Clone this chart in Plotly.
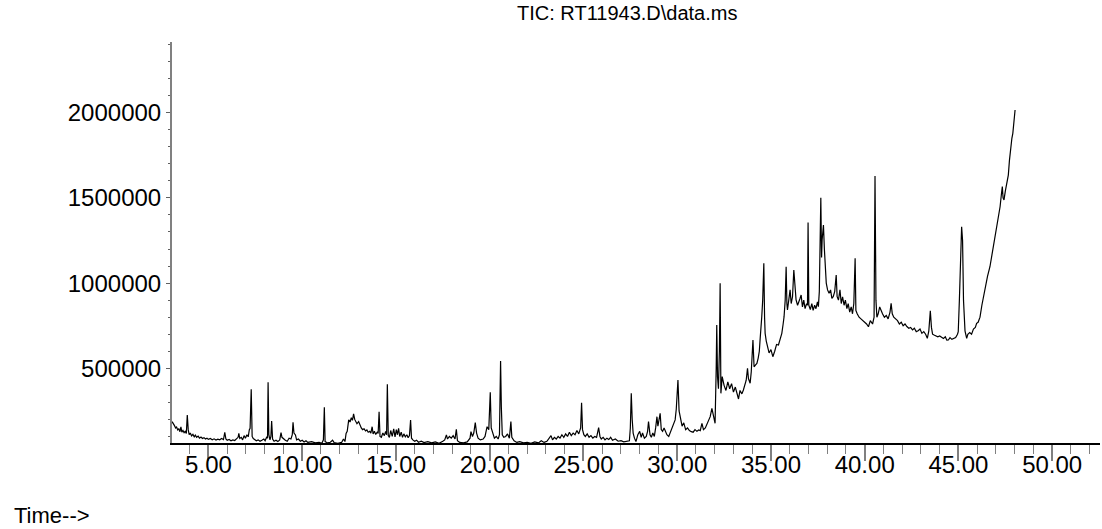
import plotly.graph_objects as go

# Retention time (min) and abundance (thousands of counts)
time_min = [
    3.06, 3.12, 3.18, 3.25, 3.30, 3.36, 3.42, 3.48, 3.53, 3.58, 3.64, 3.70, 3.76, 3.82, 3.87, 3.92, 3.97,
    4.03, 4.10, 4.17, 4.24, 4.30, 4.37, 4.45, 4.52, 4.60, 4.68, 4.76, 4.84, 4.92, 5.00, 5.10, 5.20, 5.30,
    5.40, 5.50, 5.60, 5.70, 5.80, 5.87, 5.93, 6.00, 6.10, 6.20, 6.30, 6.40, 6.50, 6.58, 6.62, 6.67, 6.75,
    6.82, 6.90, 6.97, 7.05, 7.12, 7.18, 7.22, 7.28, 7.33, 7.39, 7.45, 7.55, 7.65, 7.75, 7.85, 7.95, 8.02,
    8.10, 8.15, 8.18, 8.22, 8.28, 8.33, 8.37, 8.42, 8.50, 8.60, 8.70, 8.80, 8.87, 8.92, 9.00, 9.10, 9.20,
    9.30, 9.40, 9.47, 9.51, 9.56, 9.64, 9.70, 9.80, 9.90, 10.00, 10.10, 10.20, 10.30, 10.50, 10.70, 10.90,
    11.05, 11.13, 11.18, 11.22, 11.35, 11.50, 11.62, 11.70, 11.90, 12.10, 12.20, 12.28, 12.34, 12.40,
    12.48, 12.55, 12.62, 12.68, 12.74, 12.80, 12.86, 12.92, 13.01, 13.08, 13.15, 13.22, 13.30, 13.38,
    13.45, 13.52, 13.60, 13.66, 13.73, 13.78, 13.85, 13.92, 14.00, 14.05, 14.10, 14.15, 14.22, 14.30,
    14.38, 14.45, 14.50, 14.54, 14.59, 14.65, 14.72, 14.80, 14.88, 14.95, 15.02, 15.08, 15.14, 15.20,
    15.28, 15.35, 15.42, 15.50, 15.58, 15.65, 15.72, 15.78, 15.83, 15.90, 16.00, 16.10, 16.20, 16.35,
    16.50, 16.70, 16.90, 17.10, 17.30, 17.50, 17.60, 17.69, 17.75, 17.85, 17.95, 18.05, 18.15, 18.22,
    18.28, 18.40, 18.60, 18.80, 18.95, 19.00, 19.08, 19.15, 19.23, 19.30, 19.38, 19.50, 19.65, 19.75,
    19.86, 19.95, 20.03, 20.08, 20.15, 20.25, 20.35, 20.45, 20.52, 20.58, 20.62, 20.67, 20.75, 20.85,
    20.95, 21.05, 21.13, 21.18, 21.30, 21.45, 21.60, 21.80, 22.00, 22.20, 22.40, 22.60, 22.75, 22.90,
    23.05, 23.15, 23.27, 23.35, 23.45, 23.55, 23.65, 23.75, 23.85, 23.95, 24.05, 24.15, 24.25, 24.35,
    24.45, 24.55, 24.65, 24.75, 24.85, 24.90, 24.95, 25.02, 25.10, 25.20, 25.30, 25.40, 25.50, 25.60,
    25.70, 25.81, 25.88, 25.95, 26.05, 26.15, 26.25, 26.35, 26.45, 26.55, 26.70, 26.85, 27.00, 27.15,
    27.30, 27.45, 27.50, 27.55, 27.60, 27.65, 27.72, 27.80, 27.90, 28.00, 28.08, 28.15, 28.25, 28.35,
    28.42, 28.47, 28.55, 28.62, 28.70, 28.78, 28.85, 28.92, 28.97, 29.02, 29.09, 29.15, 29.22, 29.30,
    29.38, 29.45, 29.55, 29.65, 29.75, 29.82, 29.89, 29.95, 30.04, 30.10, 30.18, 30.26, 30.35, 30.45,
    30.55, 30.65, 30.75, 30.85, 30.95, 31.05, 31.15, 31.23, 31.32, 31.40, 31.50, 31.60, 31.70, 31.76,
    31.85, 31.92, 31.98, 32.02, 32.08, 32.11, 32.15, 32.20, 32.25, 32.29, 32.33, 32.40, 32.50, 32.60,
    32.70, 32.80, 32.90, 33.00, 33.10, 33.20, 33.27, 33.35, 33.45, 33.53, 33.60, 33.68, 33.75, 33.80,
    33.89, 33.95, 34.04, 34.10, 34.18, 34.25, 34.32, 34.38, 34.42, 34.48, 34.51, 34.56, 34.62, 34.66,
    34.69, 34.75, 34.83, 34.90, 35.00, 35.10, 35.20, 35.30, 35.40, 35.50, 35.58, 35.65, 35.70, 35.76,
    35.81, 35.85, 35.88, 35.95, 36.02, 36.08, 36.15, 36.22, 36.28, 36.34, 36.42, 36.50, 36.55, 36.61,
    36.68, 36.75, 36.82, 36.90, 36.95, 36.98, 37.02, 37.10, 37.18, 37.25, 37.33, 37.40, 37.48, 37.53,
    37.58, 37.66, 37.70, 37.73, 37.80, 37.85, 37.89, 37.95, 38.02, 38.10, 38.18, 38.25, 38.32, 38.40,
    38.48, 38.53, 38.60, 38.68, 38.75, 38.82, 38.90, 38.97, 39.05, 39.12, 39.20, 39.28, 39.35, 39.42,
    39.49, 39.53, 39.60, 39.70, 39.80, 39.90, 40.00, 40.10, 40.20, 40.30, 40.42, 40.50, 40.55, 40.60,
    40.65, 40.72, 40.80, 40.86, 40.95, 41.05, 41.15, 41.25, 41.35, 41.41, 41.47, 41.55, 41.65, 41.75,
    41.85, 41.95, 42.05, 42.15, 42.25, 42.35, 42.45, 42.55, 42.65, 42.75, 42.85, 42.95, 43.05, 43.15,
    43.25, 43.34, 43.42, 43.50, 43.56, 43.62, 43.70, 43.80, 43.90, 44.00, 44.10, 44.20, 44.30, 44.38,
    44.46, 44.55, 44.65, 44.75, 44.85, 44.95, 44.99, 45.05, 45.11, 45.17, 45.22, 45.27, 45.35, 45.44,
    45.50, 45.60, 45.70, 45.80, 45.90, 45.97, 46.05, 46.15, 46.25, 46.33, 46.45, 46.55, 46.68, 46.80,
    46.95, 47.08, 47.22, 47.30, 47.34, 47.38, 47.43, 47.50, 47.58, 47.66, 47.72, 47.79, 47.85, 47.90,
    47.96, 48.02,
]

abundance_k = [
    187, 170, 165, 150, 155, 138, 145, 128, 157, 125, 135, 122, 130, 118, 226, 140, 110,
    120, 103, 112, 98, 108, 95, 102, 90, 97, 88, 93, 85, 90, 83, 88, 80, 86,
    79, 84, 80, 88, 82, 124, 85, 78, 82, 75, 80, 76, 84, 95, 118, 88, 95,
    80, 105, 90, 110, 98, 140, 148, 377, 100, 88, 82, 75, 80, 72, 78, 85, 75,
    95, 90, 418, 110, 80, 100, 191, 85, 72, 78, 70, 80, 122, 95, 85, 78, 72,
    90, 85, 110, 183, 120, 109, 80, 85, 72, 78, 68, 75, 65, 70, 62, 66,
    60, 80, 271, 70, 62, 66, 78, 64, 60, 65, 85, 70, 118, 130,
    197, 185, 210, 195, 232, 200, 190, 175, 187, 165, 150, 140, 145, 132,
    138, 125, 130, 120, 157, 115, 130, 112, 125, 118, 245, 100, 95, 120,
    105, 130, 110, 406, 105, 95, 135, 100, 145, 98, 140, 110, 148, 100,
    125, 95, 115, 98, 110, 92, 105, 197, 90, 80, 72, 78, 66, 72,
    64, 70, 62, 68, 60, 72, 80, 109, 85, 100, 90, 105, 85, 142,
    75, 65, 62, 68, 90, 128, 100, 120, 181, 120, 90, 80, 85, 100,
    157, 140, 359, 150, 120, 90, 100, 85, 110, 543, 275, 110, 95, 100,
    115, 90, 187, 95, 75, 65, 70, 62, 66, 60, 68, 62, 75, 65,
    72, 85, 105, 80, 95, 85, 100, 90, 110, 95, 115, 100, 125, 105,
    120, 110, 135, 115, 150, 298, 140, 110, 100, 115, 95, 105, 90, 100,
    95, 152, 100, 85, 95, 80, 90, 82, 95, 78, 85, 72, 75, 68,
    70, 75, 150, 353, 200, 120, 90, 70, 110, 130, 95, 120, 90, 100,
    130, 187, 110, 95, 120, 100, 150, 216, 160, 190, 236, 140, 130, 150,
    125, 110, 100, 130, 150, 175, 197, 260, 431, 250, 200, 160, 180, 140,
    150, 135, 128, 125, 140, 130, 138, 134, 177, 140, 150, 175, 200, 216,
    265, 230, 200, 177, 500, 754, 450, 380, 600, 999, 353, 451, 400, 370,
    420, 380, 410, 360, 390, 345, 320, 370, 350, 373, 400, 430, 500, 440,
    412, 480, 666, 509, 520, 529, 560, 600, 666, 740, 803, 900, 1116, 800,
    705, 660, 620, 590, 610, 568, 600, 640, 637, 670, 705, 760, 803, 900,
    1096, 880, 842, 900, 960, 880, 920, 1077, 950, 901, 870, 890, 910, 930,
    860, 900, 850, 880, 870, 1355, 870, 845, 880, 840, 870, 850, 890, 862,
    950, 1501, 1150, 1253, 1341, 1200, 1096, 1000, 960, 940, 960, 910, 920, 950,
    1048, 920, 900, 960, 880, 920, 870, 900, 850, 880, 830, 860, 820, 880,
    1146, 840, 820, 800, 790, 780, 770, 760, 744, 780, 760, 800, 1629, 900,
    800, 820, 860, 842, 820, 800, 810, 790, 830, 881, 820, 800, 790, 780,
    760, 770, 750, 760, 745, 735, 740, 725, 735, 715, 720, 730, 705, 715,
    700, 676, 720, 838, 740, 700, 695, 690, 685, 690, 680, 675, 685, 665,
    666, 680, 670, 675, 680, 700, 715, 900, 1200, 1331, 1250, 900, 720, 676,
    700, 710, 700, 730, 740, 764, 770, 800, 870, 920, 980, 1040, 1096, 1170,
    1272, 1360, 1448, 1530, 1566, 1500, 1488, 1540, 1590, 1634, 1720, 1800, 1850, 1879,
    1950, 2016,
]

x_tick_step = 5
y_tick_step = 500000
title_text = "TIC: RT11943.D\\data.ms"
x_label_text = "Time-->"

abundance = [v * 1000 for v in abundance_k]

FONT = "Liberation Sans, Arial, sans-serif"

fig = go.Figure()
fig.add_trace(go.Scatter(
    x=time_min, y=abundance, mode="lines",
    line=dict(color="#000000", width=1.2),
    hoverinfo="skip", showlegend=False,
))

fig.update_layout(
    width=1102, height=529,
    margin=dict(l=172, r=2, t=42, b=86, autoexpand=False),
    paper_bgcolor="white", plot_bgcolor="white",
    font=dict(family=FONT, size=22, color="black"),
    showlegend=False,
)

fig.update_xaxes(
    range=[3.055, 52.55],
    tickmode="linear", tick0=0, dtick=x_tick_step, tickformat=".2f",
    ticks="outside", ticklen=16, tickwidth=2, tickcolor="#808080",
    ticklabelstandoff=-17,
    showline=True, linecolor="black", linewidth=2,
    showgrid=False, zeroline=False,
    tickfont=dict(family=FONT, size=24, color="black"),
    minor=dict(dtick=1, tick0=0, ticks="outside", ticklen=9, tickwidth=1, tickcolor="#808080", showgrid=False),
)
fig.update_yaxes(
    range=[61600, 2415000],
    tickmode="linear", tick0=0, dtick=y_tick_step, tickformat="d",
    ticks="outside", ticklen=4, tickwidth=1, tickcolor="#606060",
    showline=True, linecolor="#808080", linewidth=2,
    showgrid=False, zeroline=False,
    tickfont=dict(family=FONT, size=24, color="black"),
    minor=dict(dtick=100000, tick0=0, ticks="outside", ticklen=2, tickwidth=1, tickcolor="#606060", showgrid=False),
)

fig.add_annotation(
    text=title_text, xref="paper", yref="paper",
    x=(627 - 172) / 928, y=1 + (42 - 13) / 401,
    xanchor="center", yanchor="middle", showarrow=False,
    font=dict(family=FONT, size=20, color="black"),
)
fig.add_annotation(
    text=x_label_text, xref="paper", yref="paper",
    x=(12 - 172) / 928, y=-(515 - 443) / 401,
    xanchor="left", yanchor="middle", showarrow=False,
    font=dict(family=FONT, size=22, color="black"),
)

fig.write_html(
    "out.html",
    config={"displayModeBar": False, "staticPlot": True},
    post_script="document.body.style.margin='0';document.body.style.padding='0';",
)
